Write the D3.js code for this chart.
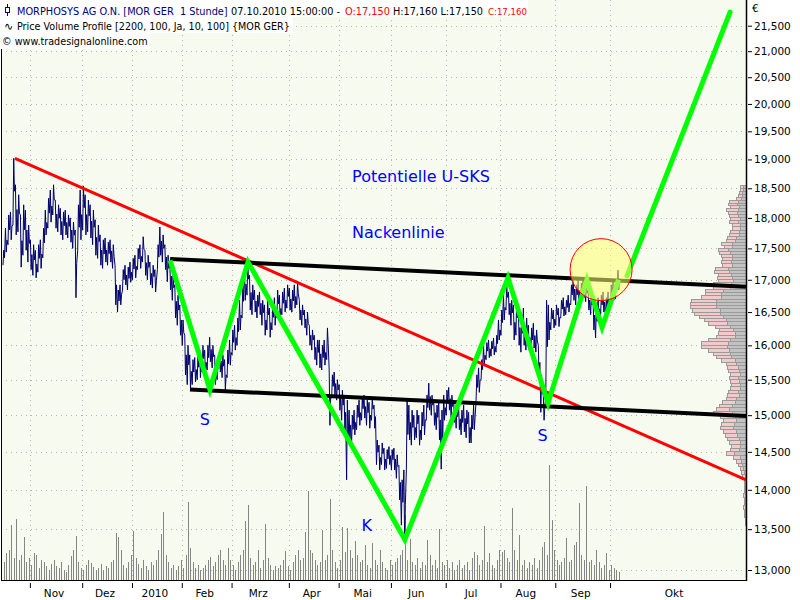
<!DOCTYPE html>
<html><head><meta charset="utf-8">
<script src="https://cdn.jsdelivr.net/npm/d3@7"></script>
<style>body{margin:0;background:#fff}svg{display:block}text{font-family:"DejaVu Sans",Verdana,sans-serif}</style>
</head><body><svg id="c" width="800" height="600"></svg>
<script>
// ---------- data ----------
const priceTicks = [13,13.5,14,14.5,15,15.5,16,16.5,17,17.5,18,18.5,19,19.5,20,20.5,21,21.5];
const monthLabels = ["Nov","Dez","2010","Feb","Mrz","Apr","Mai","Jun","Jul","Aug","Sep","Okt"];
// trading-day index where each month starts (last value = end of the axis)
const monthStarts = [11,32,52,72,92,115,135,156,178,200,222,244,297];

// hourly price range per trading day (EUR)
const dailyHigh = [17.47,17.83,18.05,18.10,19.02,18.56,18.39,18.05,18.22,18.13,
17.88,17.64,17.56,17.47,17.56,17.64,17.83,18.13,18.33,18.47,
18.56,18.30,18.22,18.16,18.10,18.13,18.05,18.00,17.93,17.80,
18.22,18.47,18.54,18.39,18.30,18.22,18.13,17.97,17.88,17.72,
17.64,17.67,17.60,17.64,17.56,17.23,16.84,16.92,17.16,17.23,
17.20,17.28,17.34,17.39,17.50,17.56,17.69,17.47,17.39,17.28,
17.23,17.16,17.56,17.85,17.72,17.56,17.39,17.28,17.07,16.92,
16.76,16.61,16.38,16.15,16.00,15.86,15.79,15.82,15.86,15.93,
16.00,15.93,16.00,16.12,16.00,15.86,15.82,15.93,15.86,15.79,
15.93,16.08,16.23,16.30,16.41,16.68,16.92,17.18,17.26,17.07,
16.92,16.84,16.76,16.81,16.68,16.61,16.68,16.56,16.61,16.72,
16.84,16.76,16.81,16.87,16.92,16.87,16.84,16.92,16.95,16.68,
16.61,16.53,16.50,16.30,16.23,16.15,16.08,16.08,16.00,16.08,
16.26,15.64,15.57,15.61,15.50,15.43,15.35,15.28,15.21,15.07,
15.00,15.07,15.14,15.21,15.25,15.28,15.21,15.18,15.24,15.14,
14.66,14.59,14.62,14.55,14.53,14.57,14.53,14.55,14.46,14.32,
14.13,14.26,15.21,15.14,15.07,15.00,15.07,15.00,15.04,15.14,
15.28,15.45,15.28,15.21,15.14,15.21,15.07,15.28,15.35,15.39,
15.28,15.21,15.14,15.10,15.07,15.14,15.07,15.04,15.00,15.14,
15.57,15.67,15.79,16.00,16.04,16.08,16.06,16.11,16.15,16.38,
16.53,16.76,16.92,16.81,16.68,16.61,16.68,16.53,16.46,16.56,
16.41,16.30,16.26,16.33,16.23,16.00,15.57,15.28,16.68,16.61,
16.56,16.53,16.61,16.56,16.68,16.72,16.68,16.76,16.92,17.03,
16.92,17.00,16.95,17.03,16.92,16.84,16.76,16.68,16.61,16.72,
16.76,16.81,16.72,16.81,16.92,16.97,17.00,17.15];
const dailyLow = [17.23,17.44,17.56,17.64,17.88,17.72,17.77,17.20,17.39,17.47,
17.28,17.16,17.07,17.03,17.12,17.18,17.35,17.72,17.83,17.93,
18.05,17.83,17.77,17.72,17.64,17.72,17.67,17.60,17.50,16.72,
17.47,17.64,17.80,17.72,17.77,17.67,17.56,17.39,17.34,17.23,
17.18,17.28,17.23,17.28,17.18,16.61,16.50,16.61,16.84,16.92,
16.84,16.96,17.00,17.03,17.16,17.18,17.28,17.07,17.00,16.92,
16.87,16.81,17.16,17.39,17.28,17.16,16.97,16.84,16.68,16.41,
16.30,16.15,16.00,15.57,15.43,15.38,15.43,15.47,15.50,15.53,
15.61,15.57,15.64,15.76,15.67,15.43,15.50,15.61,15.53,15.35,
15.53,15.71,15.86,15.93,16.00,16.23,16.41,16.68,16.76,16.53,
16.46,16.50,16.41,16.46,16.30,16.15,16.23,16.12,16.23,16.30,
16.41,16.35,16.46,16.50,16.56,16.53,16.50,16.56,16.61,16.38,
16.30,16.26,16.15,16.00,15.93,15.79,15.71,15.67,15.64,15.71,
15.79,14.86,15.24,15.28,15.21,15.07,14.93,14.80,14.13,14.66,
14.61,14.73,14.80,14.86,14.93,14.96,14.86,14.82,14.93,14.82,
14.33,14.26,14.33,14.26,14.28,14.33,14.26,14.26,14.15,13.87,
13.55,13.37,14.26,14.66,14.59,14.66,14.69,14.59,14.66,14.73,
14.93,15.07,15.00,14.86,14.80,14.66,14.27,14.93,15.00,15.07,
14.96,14.90,14.82,14.80,14.73,14.77,14.69,14.62,14.62,14.80,
15.21,15.32,15.50,15.71,15.79,15.82,15.84,15.86,15.90,16.08,
16.15,16.38,16.53,16.46,16.30,16.08,16.15,16.00,15.90,16.00,
15.93,15.93,15.90,15.96,15.90,15.50,15.04,14.93,15.28,16.08,
16.23,16.26,16.30,16.28,16.41,16.44,16.46,16.50,16.61,16.68,
16.61,16.68,16.65,16.72,16.66,16.53,16.46,16.23,16.11,16.38,
16.46,16.50,16.41,16.50,16.61,16.68,16.70,16.84];

// volume per trading day (relative units)
const volume = [18,27,30,55,22,61,20,25,43,18, 22,15,27,25,12,20,18,14,10,16,
20,14,12,18,10,8,15,24,30,44, 18,12,10,15,20,17,13,10,12,16,
10,14,12,18,20,47,43,30,15,12, 18,25,49,22,16,12,20,14,10,18,
15,20,30,46,68,25,18,12,15,10, 14,20,12,25,78,32,18,12,15,10,
12,15,20,23,14,18,25,30,20,15, 32,20,15,10,18,25,30,59,75,22,
15,18,30,12,20,56,22,15,10,14, 12,15,20,29,14,10,18,25,30,20,
22,48,89,30,27,20,15,18,50,20, 25,81,30,18,12,20,53,28,52,30,
22,39,25,18,20,35,15,12,37,20, 15,30,18,12,10,20,15,18,22,25,
30,65,20,41,18,15,22,12,18,15, 40,25,15,20,12,51,18,15,20,12,
18,10,15,20,12,15,18,10,22,28, 25,15,20,54,18,27,15,12,20,30,
28,30,22,18,72,30,20,45,15,20, 12,18,15,22,12,20,33,38,25,115,
60,30,20,15,18,22,42,18,20,35, 38,77,25,20,94,18,20,15,30,18,
12,15,27,10,15,12,10,8];

// price volume profile: 100 bins of 0.05 EUR from 18.55 downwards
const profileHigh = 18.55, profileStep = 0.05;
const profileTotal = [16,18,20,23,28,50,53,48,58,53, 50,46,50,42,40,48,50,56,60,73,
66,83,80,75,70,73,72,93,95,83, 86,83,98,98,123,123,133,163,168,168,
160,156,140,125,113,93,80,83,88,113, 133,133,113,98,88,73,60,56,53,48,
50,48,43,48,53,55,60,70,80,90, 98,78,68,73,78,68,62,56,50,43,
48,60,38,28,23,18,13,10,6,6, 6,5,8,4,6,8,4,5,3,2];
const profileGrey = [8,9,10,11,13,23,25,20,23,26, 22,18,23,18,16,20,21,28,33,40,
40,53,48,41,40,43,40,53,50,43, 41,38,43,48,68,73,73,88,88,90,
78,76,68,58,56,46,38,33,33,48, 53,56,50,48,43,33,28,23,20,18,
23,20,16,18,23,20,28,33,40,50, 40,33,30,36,38,30,26,20,18,16,
20,35,18,13,10,8,6,3,3,3, 3,2,3,2,2,3,2,2,1,1];

// drawn annotations, in [trading day, price]
const patternLine = [[67.3,17.31],[83.3,15.36],[98.6,17.28],[161.6,13.37],[203.0,17.03],
  [219.1,15.17],[234.7,17.00],[240.8,16.27],[247.4,17.00]];
const targetLine = [[250.8,17.06],[292.2,21.77]];
const trendLine = [[5.0,19.02],[298.6,14.13]];
const neckUpper = [[67.3,17.33],[298.6,16.89]];
const neckLower = [[75.3,15.36],[298.6,14.99]];
const breakoutCircle = [240.4,17.16];
const notes = [
  {text:"Potentielle U-SKS", d:140.4, p:18.71, anchor:"start"},
  {text:"Nackenlinie", d:140.4, p:17.77, anchor:"start"},
  {text:"S", d:81.3, p:14.95, anchor:"middle"},
  {text:"K", d:146.3, p:13.55, anchor:"middle"},
  {text:"S", d:216.9, p:14.73, anchor:"middle"}
];
// header texts (fitted into the space each takes in the reference)
const headerParts = [
  {text:"MORPHOSYS AG O.N. [MOR GER  1 Stunde]", color:"#00007a", x:17, y:14.5, w:211},
  {text:"07.10.2010 15:00:00 -", color:"#000", x:231, y:14.5, w:109},
  {text:"O:17,150", color:"#ff0000", x:345, y:14.5, w:45},
  {text:"H:17,160 L:17,150", color:"#000", x:393, y:14.5, w:90},
  {text:"C:17,160", color:"#ff0000", x:488, y:14.5, w:39},
  {text:"Price Volume Profile [2200, 100, Ja, 10, 100] {MOR GER}", color:"#000", x:17, y:29.5, w:273},
  {text:"© www.tradesignalonline.com", color:"#000", x:2, y:45, w:146}
];

// ---------- chart ----------
const X0 = 1, X1 = 746, Y0 = 0, Y1 = 580;
const svg = d3.select("#c");
const x = d3.scaleLinear().domain([0, 298.6]).range([2.5, 746]);
const y = d3.scaleLog().domain([13, 21.5]).range([570, 25.7]);
const yVol = d3.scaleLinear().domain([0, 120]).range([Y1, Y1 - 120]);
const wProf = d3.scaleLinear().domain([0, 168]).range([0, 56]);
const de = d3.formatLocale({decimal:",", thousands:".", grouping:[3], currency:["","€"]});
const fmt = de.format(".3f");

svg.append("rect").attr("width",800).attr("height",600).attr("fill","#fff");
svg.append("rect").attr("x",X0).attr("y",Y0).attr("width",X1-X0).attr("height",Y1-Y0).attr("fill","#f7fbef");
svg.append("defs").append("clipPath").attr("id","plot").append("rect")
  .attr("x",X0).attr("y",Y0).attr("width",X1-X0).attr("height",Y1-Y0);
const g = svg.append("g").attr("clip-path","url(#plot)");

// grid
g.append("g").selectAll("line").data(priceTicks).join("line")
  .attr("x1",X0).attr("x2",X1).attr("y1",d=>Math.round(y(d))+0.5).attr("y2",d=>Math.round(y(d))+0.5)
  .attr("stroke","#b4b4b4").attr("stroke-dasharray","1,4");
g.append("g").selectAll("line").data(monthStarts.slice(0,12)).join("line")
  .attr("y1",Y0).attr("y2",Y1).attr("x1",d=>Math.round(x(d))+0.5).attr("x2",d=>Math.round(x(d))+0.5)
  .attr("stroke","#b4b4b4").attr("stroke-dasharray","1,4");

// volume
g.append("g").attr("shape-rendering","crispEdges").selectAll("rect").data(volume).join("rect")
  .attr("x",(v,i)=>Math.round(x(i+0.5))).attr("width",1)
  .attr("y",v=>yVol(v)).attr("height",v=>Y1-yVol(v)).attr("fill","#858585");

// price volume profile
const prof = g.append("g").attr("shape-rendering","crispEdges");
profileTotal.forEach((t,i)=>{
  const top = y(profileHigh - i*profileStep), bot = y(profileHigh - (i+1)*profileStep);
  prof.append("rect").attr("x",X1 - wProf(t)).attr("y",top).attr("width",wProf(t)).attr("height",bot-top)
    .attr("fill","#f2caca").attr("stroke","#9a9a9a").attr("stroke-width",1);
  const gv = profileGrey[i];
  prof.append("rect").attr("x",X1 - wProf(gv)).attr("y",top).attr("width",wProf(gv)).attr("height",bot-top)
    .attr("fill","#c2c2c2").attr("stroke","#9a9a9a").attr("stroke-width",1);
});

// price line
const pts = [];
dailyHigh.forEach((h,i)=>{
  const l = dailyLow[i];
  if (i % 2 === 0) pts.push([i+0.2,l],[i+0.5,h],[i+0.8,(h+l)/2]);
  else pts.push([i+0.2,h],[i+0.5,l],[i+0.8,(h+l)/2]);
});
const line = d3.line().x(p=>x(p[0])).y(p=>y(p[1]));
g.append("path").datum(pts).attr("d",line).attr("fill","none").attr("stroke","#00006e").attr("stroke-width",1);

// trend lines
g.append("path").datum(trendLine).attr("d",line).attr("fill","none").attr("stroke","#ff0000").attr("stroke-width",3);
g.append("path").datum(neckUpper).attr("d",line).attr("fill","none").attr("stroke","#000").attr("stroke-width",4);
g.append("path").datum(neckLower).attr("d",line).attr("fill","none").attr("stroke","#000").attr("stroke-width",4);
g.append("path").datum(patternLine).attr("d",line).attr("fill","none").attr("stroke","#00ff00").attr("stroke-width",5);
g.append("path").datum(targetLine).attr("d",line).attr("fill","none").attr("stroke","#00ff00").attr("stroke-width",5).attr("stroke-linecap","round");
g.append("circle").attr("cx",x(breakoutCircle[0])).attr("cy",y(breakoutCircle[1])).attr("r",31)
  .attr("fill","#ffff70").attr("fill-opacity",0.55).attr("stroke","#ff0000").attr("stroke-width",1);

// notes
g.append("g").selectAll("text").data(notes).join("text")
  .attr("x",d=>x(d.d)).attr("y",d=>y(d.p)).attr("dy","0.36em").attr("text-anchor",d=>d.anchor)
  .attr("font-size","16px").attr("fill","#0000ff").text(d=>d.text);

// frame
svg.append("line").attr("x1",X0+0.5).attr("x2",X0+0.5).attr("y1",Y0).attr("y2",Y1+1).attr("stroke","#000");
svg.append("line").attr("x1",X0).attr("x2",X1+1).attr("y1",Y1+0.5).attr("y2",Y1+0.5).attr("stroke","#000");
svg.append("line").attr("x1",X1+0.5).attr("x2",X1+0.5).attr("y1",Y0).attr("y2",Y1+1).attr("stroke","#000").attr("stroke-width",1.5);

// right axis
const ya = svg.append("g").attr("transform",`translate(${X1+2},0)`)
  .call(d3.axisRight(y).tickValues(priceTicks).tickFormat(fmt).tickSize(4).tickPadding(2));
ya.select(".domain").remove();
ya.attr("font-family","DejaVu Sans").attr("font-size",10.5);
ya.selectAll("text").attr("fill","#000");
ya.selectAll("line").attr("stroke","#000");
svg.append("text").attr("x",752).attr("y",12).attr("font-size","10.5px").text("€");

// bottom axis
const xa = svg.append("g").attr("transform",`translate(0,${Y1+3})`)
  .call(d3.axisBottom(x).tickValues(monthStarts.slice(0,12)).tickFormat("").tickSize(5));
xa.select(".domain").remove();
xa.selectAll("line").attr("stroke","#000");
svg.append("g").selectAll("text").data(monthLabels).join("text")
  .attr("x",(m,i)=>x((monthStarts[i]+monthStarts[i+1])/2)-2).attr("y",597)
  .attr("text-anchor","middle").attr("font-size","10.5px").attr("fill","#000").text(m=>m);

// header
svg.append("rect").attr("x",0).attr("y",0).attr("width",528).attr("height",17).attr("fill","#fff");
svg.append("rect").attr("x",0).attr("y",17).attr("width",293).attr("height",16).attr("fill","#fff");
svg.append("rect").attr("x",0).attr("y",33).attr("width",150).attr("height",16).attr("fill","#fff");
svg.append("line").attr("x1",7.5).attr("x2",7.5).attr("y1",4).attr("y2",16).attr("stroke","#00008b");
svg.append("rect").attr("x",5.5).attr("y",7.5).attr("width",4).attr("height",5).attr("fill","#fff").attr("stroke","#00008b");
svg.append("text").attr("x",4).attr("y",29.5).attr("font-size","11px").text("∿");
svg.append("g").selectAll("text").data(headerParts).join("text")
  .attr("x",d=>d.x).attr("y",d=>d.y).attr("font-size","11px").attr("fill",d=>d.color)
  .style("white-space","pre").text(d=>d.text)
  .each(function(d){
    const w = this.getComputedTextLength();
    if (w > d.w) d3.select(this).attr("font-size", (11 * d.w / w).toFixed(2) + "px");
  });
</script></body></html>
